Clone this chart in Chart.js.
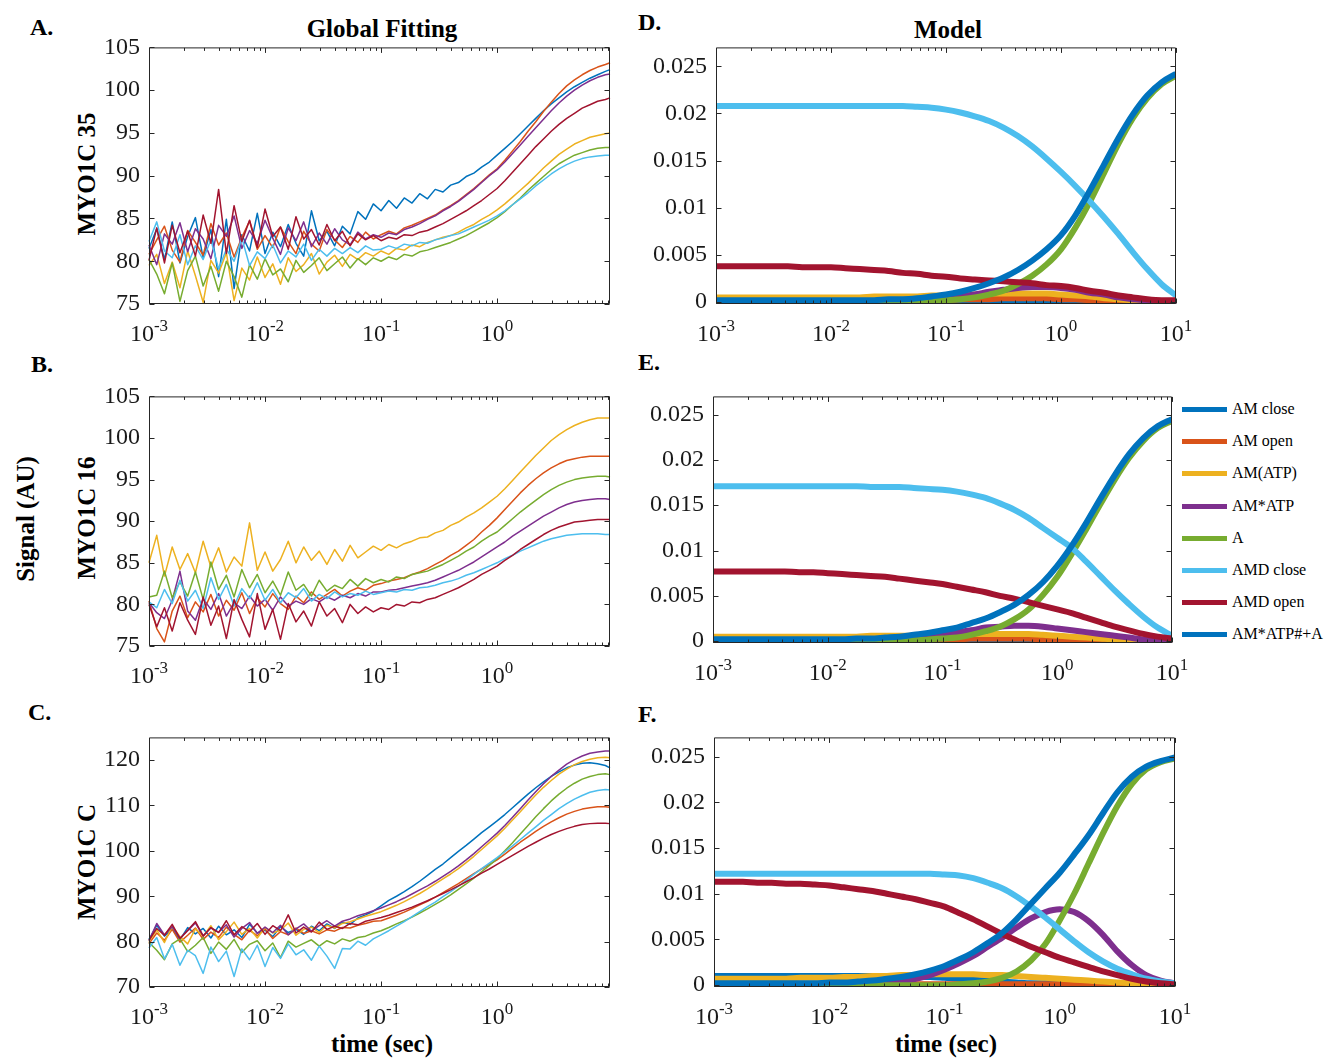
<!DOCTYPE html>
<html>
<head>
<meta charset="utf-8">
<script src="https://cdn.jsdelivr.net/npm/chart.js@4.4.1/dist/chart.umd.min.js"></script>
<style>
  html,body{margin:0;padding:0;background:#fff;}
  body{position:relative;width:1325px;height:1059px;overflow:hidden;font-family:"Liberation Serif","Times New Roman",serif;color:#000;}
  canvas{position:absolute;}
  .lbl{position:absolute;font-weight:bold;white-space:nowrap;line-height:1;}
  .ctr{transform:translateX(-50%);}
  .rot{position:absolute;font-weight:bold;white-space:nowrap;line-height:1;transform:translate(-50%,-50%) rotate(-90deg);}
  .leg{position:absolute;left:1182px;height:20px;font-size:16px;line-height:20px;white-space:nowrap;color:#000;}
  .leg span.sw{position:absolute;left:0;top:8px;width:45px;height:5px;}
  .leg span.tx{position:absolute;left:50px;top:0;}
</style>
</head>
<body>

<div class="lbl" style="left:30px;top:15px;font-size:24px;">A.</div>
<div class="lbl" style="left:31px;top:352px;font-size:24px;">B.</div>
<div class="lbl" style="left:28px;top:700px;font-size:24px;">C.</div>
<div class="lbl" style="left:638px;top:10px;font-size:24px;">D.</div>
<div class="lbl" style="left:638px;top:350px;font-size:24px;">E.</div>
<div class="lbl" style="left:638px;top:702px;font-size:24px;">F.</div>

<div class="lbl ctr" style="left:382px;top:16px;font-size:25px;">Global Fitting</div>
<div class="lbl ctr" style="left:948px;top:17px;font-size:25px;">Model</div>
<div class="lbl ctr" style="left:382px;top:1031px;font-size:25px;">time (sec)</div>
<div class="lbl ctr" style="left:946px;top:1031px;font-size:25px;">time (sec)</div>

<div class="rot" style="left:86px;top:174px;font-size:25px;">MYO1C 35</div>
<div class="rot" style="left:86px;top:518px;font-size:25px;">MYO1C 16</div>
<div class="rot" style="left:86px;top:862px;font-size:25px;">MYO1C C</div>
<div class="rot" style="left:25px;top:519px;font-size:25px;">Signal (AU)</div>

<div id="legend"></div>

<script>
// ---------------- DATA ----------------
// time points (s) of the measured traces (panels A-C)
const tData = [
0.001,0.001166,0.001359,0.001585,0.001848,0.002154,0.002512,0.002929,0.003415,0.003981,0.004642,0.005412,0.00631,0.007356,0.008577,
0.01,0.01166,0.01359,0.01585,0.01848,0.02154,0.02512,0.02929,0.03415,0.03981,0.04642,0.05412,0.0631,0.07356,0.08577,
0.1,0.1166,0.1359,0.1585,0.1848,0.2154,0.2512,0.2929,0.3415,0.3981,0.4642,0.5412,0.631,0.7356,0.8577,
1,1.166,1.359,1.585,1.848,2.154,2.512,2.929,3.415,3.981,4.642,5.412,6.31,7.356,8.577,
9.4];

// Panel A  (MYO1C 35)
const aBlue = [
81.5,83.8,80.2,84.6,79.8,82.9,85.1,80.4,83.7,78.2,84.9,76.8,83.1,81.2,85.6,
80.9,83.4,81.7,84.3,82.1,80.6,85.9,82.4,83.5,81.8,84.1,83.2,85.8,84.9,86.7,
85.9,87.1,86.2,87.4,86.8,87.9,87.3,88.4,88.1,88.9,89.2,89.9,90.3,91.0,91.6,
92.4,93.2,94.0,94.9,95.8,96.7,97.6,98.4,99.1,99.8,100.4,100.9,101.4,101.8,102.2,
102.4];
const aOrange = [
80.8,82.5,84.1,81.3,79.9,83.6,82.2,80.7,84.4,81.9,83.3,80.5,82.8,84.7,81.4,
83.0,81.6,84.0,82.3,80.9,83.5,82.0,81.2,83.7,82.5,81.6,82.9,82.2,83.4,82.6,
83.1,83.5,83.2,83.9,84.2,84.6,85.0,85.4,86.0,86.5,87.1,87.8,88.5,89.3,90.1,
90.8,91.8,92.9,94.0,95.2,96.3,97.5,98.6,99.6,100.5,101.2,101.8,102.3,102.7,103.0,
103.2];
const aYellow = [
79.5,80.8,77.4,79.9,76.9,81.2,78.3,75.2,80.1,78.6,81.0,75.4,79.2,77.8,80.5,
78.1,79.7,77.3,80.4,78.8,79.6,80.9,78.5,79.9,80.7,79.4,80.8,80.2,81.0,80.6,
81.2,80.8,81.5,81.3,81.9,81.7,82.2,82.5,82.8,83.0,83.4,83.9,84.3,84.9,85.4,
86.0,86.7,87.5,88.3,89.1,90.0,90.9,91.7,92.5,93.1,93.7,94.1,94.5,94.7,94.9,
95.0];
const aPurple = [
81.9,79.6,83.2,82.0,84.5,81.1,83.8,82.6,80.3,84.2,82.9,85.3,81.5,83.6,82.1,
84.8,82.7,80.8,83.9,82.4,84.6,81.7,83.3,82.0,83.8,82.5,81.9,83.4,82.6,83.1,
82.8,83.3,83.1,83.7,84.0,84.4,84.9,85.3,85.9,86.4,87.0,87.7,88.4,89.2,90.0,
90.7,91.6,92.6,93.6,94.6,95.6,96.6,97.6,98.5,99.3,100.0,100.6,101.1,101.5,101.8,
101.9];
const aGreen = [
80.2,78.5,76.2,79.8,75.3,78.9,80.6,77.1,79.4,76.5,80.0,78.2,75.8,79.6,77.9,
80.3,78.4,79.1,77.6,80.1,78.7,79.5,80.4,78.9,79.7,80.5,79.2,80.3,79.6,80.4,
80.0,80.5,80.2,80.8,80.6,81.1,81.3,81.6,81.9,82.2,82.6,83.0,83.5,84.0,84.5,
85.1,85.8,86.6,87.4,88.3,89.1,89.9,90.7,91.4,91.9,92.4,92.7,93.0,93.2,93.3,
93.3];
const aLightBlue = [
82.3,84.6,81.2,80.4,83.1,79.6,81.8,80.2,82.5,79.1,81.4,80.0,82.7,79.5,81.1,
80.3,81.9,79.8,81.2,80.5,82.0,80.1,81.4,80.6,81.5,80.9,81.6,81.0,81.8,81.3,
81.4,81.8,81.5,82.0,81.8,82.2,82.1,82.5,82.7,83.0,83.2,83.6,84.0,84.4,84.8,
85.3,85.9,86.6,87.3,88.0,88.8,89.5,90.2,90.8,91.3,91.7,92.0,92.2,92.3,92.4,
92.4];
const aRed = [
80.1,83.9,79.8,84.2,81.0,83.5,80.6,85.4,82.1,88.4,80.9,86.5,82.3,84.8,81.6,
86.1,82.9,84.0,81.4,85.2,82.6,83.7,81.9,84.3,82.4,83.5,81.8,83.2,82.5,83.0,
82.4,82.8,82.6,83.1,83.0,83.4,83.6,84.0,84.4,84.9,85.4,85.9,86.5,87.1,87.8,
88.5,89.4,90.4,91.4,92.4,93.4,94.3,95.2,96.0,96.7,97.3,97.9,98.3,98.7,98.9,
99.1];

// Panel B  (MYO1C 16)
const bOrange = [
80.4,77.1,75.5,79.2,81.0,78.4,80.3,79.1,81.2,78.6,80.5,79.3,81.4,78.9,80.8,
79.7,81.3,80.1,79.4,81.0,80.2,81.5,80.6,81.2,81.8,81.0,81.6,82.0,81.7,82.3,
82.5,82.8,83.0,83.2,83.6,83.9,84.3,84.8,85.3,85.9,86.4,87.1,87.8,88.7,89.5,
90.4,91.4,92.4,93.4,94.3,95.1,95.8,96.4,96.9,97.3,97.5,97.7,97.8,97.8,97.8,
97.8];
const bYellow = [
85.0,88.3,83.4,86.9,84.2,86.1,83.8,87.6,84.5,86.8,83.9,85.7,84.6,89.8,84.1,
86.3,84.0,85.4,87.6,85.0,86.9,85.3,86.4,84.8,86.6,85.2,87.1,85.6,86.3,87.0,
86.5,87.2,86.8,87.3,87.6,88.0,88.1,88.6,88.9,89.5,89.9,90.5,91.0,91.6,92.3,
93.0,93.9,94.9,95.9,96.9,97.9,98.8,99.7,100.4,101.0,101.5,101.9,102.2,102.4,102.4,
102.4];
const bPurple = [
80.2,79.0,78.3,80.5,84.0,79.2,78.1,80.7,79.4,81.3,78.6,80.2,79.5,81.0,79.8,
80.6,79.3,80.9,79.8,80.4,80.0,80.7,80.3,80.9,80.5,81.1,80.8,81.3,81.0,81.5,
81.5,81.7,81.8,82.0,82.2,82.4,82.6,82.9,83.3,83.7,84.1,84.6,85.1,85.7,86.3,
86.9,87.5,88.2,88.8,89.4,90.0,90.6,91.1,91.6,92.0,92.3,92.5,92.6,92.7,92.7,
92.6];
const bGreen = [
80.9,81.1,84.0,80.8,82.7,81.0,83.9,80.6,85.1,81.8,83.5,80.9,84.2,82.0,83.6,
81.4,82.8,81.1,83.9,81.7,82.4,81.0,82.9,81.6,82.3,81.9,83.0,82.2,83.1,82.6,
83.0,82.7,83.3,83.1,83.6,83.8,84.0,84.4,84.8,85.3,85.8,86.4,86.9,87.6,88.2,
88.7,89.5,90.3,91.1,91.8,92.5,93.2,93.8,94.3,94.7,95.0,95.2,95.3,95.4,95.4,
95.3];
const bLightBlue = [
80.3,79.6,81.8,80.1,82.9,80.4,81.7,79.5,83.2,80.6,82.4,79.8,81.9,80.7,82.6,
80.5,81.8,80.2,81.4,80.8,81.9,80.4,81.2,80.7,81.5,80.9,81.3,81.1,81.6,81.2,
81.4,81.6,81.5,81.8,81.7,82.0,82.1,82.3,82.6,82.8,83.1,83.5,83.8,84.2,84.6,
85.0,85.5,85.9,86.4,86.8,87.2,87.6,87.9,88.1,88.3,88.4,88.5,88.5,88.5,88.4,
88.4];
const bRed = [
80.0,77.3,79.6,76.8,80.2,78.1,76.4,80.9,77.5,79.8,75.9,80.6,78.2,76.1,81.3,
77.0,79.4,75.8,80.1,77.9,79.2,77.4,80.3,78.6,79.5,77.8,80.0,78.9,79.7,79.1,
79.6,79.4,80.0,79.8,80.3,80.2,80.6,80.8,81.2,81.6,82.0,82.5,83.0,83.6,84.1,
84.6,85.3,85.9,86.6,87.2,87.8,88.4,88.9,89.3,89.6,89.9,90.0,90.1,90.2,90.2,
90.2];

// Panel C  (MYO1C C)
const cBlue = [
80.5,83.6,81.2,82.8,80.4,83.1,81.7,82.9,80.8,83.4,81.5,82.6,80.9,83.8,81.9,
82.5,81.1,83.3,82.0,82.7,81.6,83.4,82.4,83.9,82.9,84.3,83.8,85.2,85.9,86.7,
87.9,89.1,90.0,91.0,92.1,93.3,94.6,95.9,97.1,98.5,99.9,101.2,102.6,104.0,105.3,
106.6,108.0,109.5,111.0,112.5,113.9,115.2,116.4,117.4,118.3,118.9,119.3,119.4,119.2,118.8,
118.3];
const cOrange = [
79.6,81.9,80.3,82.7,79.9,81.4,83.0,80.5,82.1,80.9,83.2,81.6,80.4,82.5,81.3,
82.8,80.7,82.2,81.5,83.0,81.8,82.4,81.7,82.6,82.3,83.1,83.0,83.6,84.0,84.5,
84.6,85.2,85.8,86.5,87.3,88.1,88.9,89.8,90.8,91.8,92.8,93.9,95.0,96.0,97.0,
98.0,99.3,100.6,101.9,103.1,104.3,105.4,106.4,107.3,108.1,108.7,109.2,109.5,109.7,109.7,
109.6];
const cYellow = [
80.0,82.6,79.8,83.4,81.1,79.5,82.8,81.2,83.5,80.4,82.2,84.3,81.6,82.9,80.8,
83.1,81.9,82.5,84.1,81.4,82.7,83.2,82.0,83.6,83.0,84.0,84.4,85.0,85.6,86.1,
86.6,87.3,88.0,88.8,89.7,90.6,91.6,92.7,93.8,94.9,96.1,97.4,98.8,100.3,101.8,
103.3,105.0,106.8,108.6,110.5,112.3,114.0,115.5,116.9,118.0,119.0,119.7,120.2,120.5,120.6,
120.5];
const cPurple = [
80.2,84.0,81.5,83.3,80.7,82.4,84.1,81.3,83.0,82.1,83.7,81.0,82.9,84.2,81.8,
83.2,82.0,83.6,81.5,82.8,83.9,82.3,83.5,84.6,83.4,84.5,85.0,85.7,86.2,86.8,
87.4,88.1,88.8,89.6,90.5,91.4,92.3,93.3,94.4,95.5,96.7,98.0,99.4,100.9,102.4,
103.9,105.6,107.4,109.3,111.2,113.0,114.8,116.4,117.8,119.1,120.1,120.9,121.5,121.8,122.0,
122.0];
const cGreen = [
79.8,78.1,76.0,79.5,80.6,77.8,79.2,80.9,77.4,79.9,78.3,80.5,77.6,79.4,80.2,
78.0,79.7,76.5,80.1,78.8,79.6,80.4,79.0,80.2,79.5,80.6,80.1,80.9,81.2,81.9,
82.4,83.1,83.9,84.6,85.4,86.3,87.2,88.2,89.2,90.3,91.5,92.7,94.0,95.4,96.8,
98.3,100.0,101.8,103.7,105.6,107.5,109.3,111.0,112.5,113.8,114.9,115.8,116.4,116.8,117.0,
116.8];
const cLightBlue = [
78.6,80.9,76.2,79.4,74.8,78.1,76.9,73.0,78.8,75.6,77.9,72.3,78.4,76.0,79.2,
74.5,78.7,76.3,79.5,77.1,78.2,75.9,79.0,76.8,74.1,78.5,78.4,80.1,79.2,80.6,
81.5,82.4,83.4,84.4,85.5,86.6,87.7,88.7,89.9,91.0,92.2,93.5,94.8,96.1,97.3,
98.5,99.8,101.1,102.5,103.9,105.3,106.7,108.0,109.3,110.4,111.4,112.2,112.9,113.3,113.5,
113.4];
const cRed = [
80.3,82.9,81.4,83.8,80.7,82.5,84.4,81.2,83.1,82.0,84.6,81.5,83.3,82.2,84.0,
81.6,83.5,82.4,85.9,81.9,83.2,82.1,84.3,82.7,83.4,82.9,84.0,83.7,84.5,84.9,
85.3,85.8,86.4,87.0,87.6,88.3,89.0,89.8,90.6,91.4,92.3,93.2,94.1,95.1,96.0,
97.0,98.0,99.0,100.0,101.0,101.9,102.8,103.6,104.3,104.9,105.4,105.8,106.0,106.1,106.1,
106.0];

// time points (s) of the model curves (panels D-F), 8 per decade
const tModel = [
0.001,0.001334,0.001778,0.002371,0.003162,0.004217,0.005623,0.007499,
0.01,0.01334,0.01778,0.02371,0.03162,0.04217,0.05623,0.07499,
0.1,0.1334,0.1778,0.2371,0.3162,0.4217,0.5623,0.7499,
1,1.334,1.778,2.371,3.162,4.217,5.623,7.499,
10];

const modelNames = ['AM close','AM open','AM(ATP)','AM*ATP','A','AMD close','AMD open','AM*ATP#+A'];

// Panel D
const dAMclose = [
.0002,.0002,.0002,.0002,.0002,.0002,.0002,.0002,
.0002,.0002,.0002,.0002,.0002,.0002,.0002,.0002,
.0002,.0002,.0002,.0002,.0002,.0001,.0001,.0001,
.0001,.0001,.0001,0,0,0,0,0,
0];
const dAMopen = [
.0001,.0001,.0001,.0001,.0001,.0001,.0001,.0001,
.0001,.0001,.0001,.0001,.0001,.0001,.0002,.0002,
.0002,.0003,.0003,.0003,.0004,.0004,.0004,.0004,
.0003,.0003,.0002,.0002,.0001,.0001,0,0,
0];
const dAMATP = [
.0005,.0005,.0005,.0005,.0005,.0005,.0005,.0005,
.0005,.0005,.0005,.0006,.0006,.0006,.0006,.0007,
.0007,.0008,.0008,.0009,.0009,.0009,.0009,.0009,
.0008,.0007,.0006,.0004,.0003,.0002,.0001,.0001,
0];
const dAMsATP = [
0,0,0,0,0,0,0,0,
0,0,0,0,.0001,.0001,.0002,.0003,
.0004,.0006,.0008,.0011,.0013,.0015,.0016,.0016,
.0015,.0013,.0010,.0008,.0005,.0003,.0002,.0001,
0];
const dA = [
0,0,0,0,0,0,0,0,
0,0,0,0,0,0,0,.0001,
.0002,.0003,.0005,.0008,.0012,.0019,.0028,.0040,
.0056,.0079,.0106,.0137,.0168,.0195,.0216,.0231,
.0240];
const dAMDclose = [
.0208,.0208,.0208,.0208,.0208,.0208,.0208,.0208,
.0208,.0208,.0208,.0208,.0208,.0208,.0207,.0206,
.0204,.0201,.0197,.0192,.0185,.0176,.0165,.0152,
.0138,.0123,.0107,.0090,.0072,.0053,.0035,.0019,
.0007];
const dAMDopen = [
.0038,.0038,.0038,.0038,.0038,.0038,.0037,.0037,
.0037,.0036,.0035,.0034,.0033,.0031,.0030,.0028,
.0027,.0025,.0024,.0023,.0022,.0021,.0020,.0018,
.0017,.0015,.0012,.0010,.0007,.0005,.0003,.0002,
.0002];
const dAMsATPA = [
.0002,.0002,.0002,.0002,.0002,.0002,.0002,.0002,
.0002,.0002,.0002,.0002,.0003,.0003,.0004,.0006,
.0008,.0011,.0015,.0020,.0026,.0034,.0044,.0056,
.0071,.0092,.0118,.0146,.0174,.0199,.0219,.0233,
.0242];

// Panel E
const eAMclose = [
.0001,.0001,.0001,.0001,.0001,.0001,.0001,.0001,
.0001,.0001,.0001,.0001,.0001,.0001,.0001,.0001,
.0001,.0001,.0001,.0001,.0001,.0001,.0001,.0001,
.0001,0,0,0,0,0,0,0,
0];
const eAMopen = [
.0001,.0001,.0001,.0001,.0001,.0001,.0001,.0001,
.0001,.0001,.0001,.0001,.0001,.0001,.0002,.0002,
.0002,.0002,.0003,.0003,.0003,.0003,.0003,.0002,
.0002,.0002,.0001,.0001,.0001,0,0,0,
0];
const eAMATP = [
.0005,.0005,.0005,.0005,.0005,.0005,.0005,.0005,
.0005,.0005,.0005,.0006,.0006,.0006,.0006,.0007,
.0007,.0007,.0008,.0008,.0008,.0008,.0008,.0007,
.0006,.0005,.0004,.0003,.0002,.0002,.0001,.0001,
0];
const eAMsATP = [
0,0,0,0,0,0,0,0,
0,0,.0001,.0001,.0001,.0002,.0003,.0005,
.0007,.0010,.0012,.0015,.0016,.0017,.0017,.0016,
.0014,.0012,.0010,.0008,.0006,.0004,.0002,.0001,
0];
const eA = [
0,0,0,0,0,0,0,0,
0,0,0,0,0,.0001,.0001,.0002,
.0003,.0004,.0007,.0011,.0016,.0024,.0035,.0051,
.0071,.0096,.0123,.0151,.0178,.0202,.0221,.0235,
.0243];
const eAMDclose = [
.0171,.0171,.0171,.0171,.0171,.0171,.0171,.0171,
.0171,.0171,.0171,.0170,.0170,.0170,.0169,.0168,
.0167,.0165,.0162,.0158,.0152,.0145,.0136,.0125,
.0114,.0103,.0088,.0072,.0056,.0041,.0027,.0015,
.0006];
const eAMDopen = [
.0077,.0077,.0077,.0077,.0077,.0077,.0076,.0076,
.0075,.0074,.0073,.0072,.0071,.0069,.0067,.0065,
.0063,.0060,.0057,.0054,.0050,.0047,.0043,.0039,
.0035,.0031,.0026,.0021,.0016,.0012,.0008,.0005,
.0003];
const eAMsATPA = [
.0002,.0002,.0002,.0002,.0002,.0002,.0002,.0002,
.0002,.0002,.0003,.0003,.0004,.0005,.0007,.0009,
.0012,.0015,.0020,.0025,.0032,.0040,.0051,.0065,
.0083,.0105,.0130,.0157,.0183,.0206,.0224,.0237,
.0245];

// Panel F
const fAMclose = [
.0010,.0010,.0010,.0010,.0010,.0010,.0010,.0010,
.0010,.0010,.0010,.0010,.0010,.0010,.0009,.0009,
.0008,.0007,.0006,.0005,.0004,.0003,.0002,.0002,
.0001,.0001,0,0,0,0,0,0,
0];
const fAMopen = [
.0001,.0001,.0001,.0001,.0001,.0001,.0001,.0001,
.0001,.0001,.0001,.0001,.0001,.0001,.0001,.0001,
.0001,.0001,.0001,.0001,.0001,.0001,.0001,.0001,
.0001,.0001,.0001,.0001,.0001,.0001,.0001,0,
0];
const fAMATP = [
.0007,.0007,.0007,.0007,.0007,.0007,.0008,.0008,
.0008,.0009,.0009,.0010,.0010,.0011,.0011,.0012,
.0012,.0012,.0012,.0011,.0011,.0010,.0009,.0008,
.0007,.0006,.0005,.0004,.0003,.0002,.0001,.0001,
0];
const fAMsATP = [
.0001,.0001,.0001,.0001,.0001,.0001,.0001,.0001,
.0001,.0001,.0001,.0002,.0003,.0004,.0007,.0011,
.0017,.0024,.0032,.0042,.0052,.0063,.0073,.0080,
.0083,.0080,.0070,.0055,.0037,.0022,.0011,.0005,
.0002];
const fA = [
0,0,0,0,0,0,0,0,
0,0,0,0,0,0,0,0,
0,.0001,.0002,.0004,.0008,.0015,.0027,.0045,
.0071,.0100,.0133,.0166,.0196,.0220,.0236,.0244,
.0248];
const fAMDclose = [
.0122,.0122,.0122,.0122,.0122,.0122,.0122,.0122,
.0122,.0122,.0122,.0122,.0122,.0122,.0122,.0122,
.0121,.0120,.0117,.0112,.0106,.0097,.0086,.0074,
.0061,.0048,.0036,.0026,.0018,.0012,.0007,.0004,
.0002];
const fAMDopen = [
.0113,.0113,.0113,.0112,.0112,.0111,.0111,.0110,
.0109,.0107,.0105,.0103,.0100,.0097,.0094,.0090,
.0086,.0079,.0072,.0064,.0056,.0049,.0042,.0036,
.0030,.0025,.0020,.0015,.0011,.0007,.0004,.0002,
.0001];
const fAMsATPA = [
.0002,.0002,.0002,.0002,.0002,.0002,.0002,.0002,
.0003,.0003,.0004,.0005,.0007,.0009,.0012,.0016,
.0021,.0028,.0036,.0046,.0057,.0072,.0089,.0106,
.0123,.0143,.0164,.0188,.0211,.0228,.0239,.0245,
.0249];

// tick values and labels
const yTicksData  = [75,80,85,90,95,100,105];
const yLabelsData = ['75','80','85','90','95','100','105'];
const yTicksC     = [70,80,90,100,110,120];
const yLabelsC    = ['70','80','90','100','110','120'];
const yTicksModel = [0,0.005,0.01,0.015,0.02,0.025];
const yLabelsModel= ['0','0.005','0.01','0.015','0.02','0.025'];
const xDecadesData  = [0.001,0.01,0.1,1];
const xDecadesModel = [0.001,0.01,0.1,1,10];

// ---------------- STYLE ----------------
const C = {blue:'#0072BD', orange:'#D95319', yellow:'#EDB120', purple:'#7E2F8E',
           green:'#77AC30', lightBlue:'#4DBEEE', red:'#A2142F'};
const modelColors = [C.blue,C.orange,C.yellow,C.purple,C.green,C.lightBlue,C.red,C.blue];
const FONT = 'Liberation Serif';
const RIGHT_PAD = 30;

function framePlugin(decades){
  return {
    id:'frame',
    afterDraw(chart){
      const {ctx, chartArea:a, scales:{x,y}} = chart;
      ctx.save();
      ctx.strokeStyle = '#262626';
      ctx.lineWidth = 1;
      const l=a.left+0.5, r=a.right-0.5, t=a.top+0.5, b=a.bottom-0.5;
      ctx.beginPath();
      ctx.rect(l,t,r-l,b-t);
      y.ticks.forEach(tk=>{
        const py=Math.round(y.getPixelForValue(tk.value))+0.5;
        ctx.moveTo(l,py); ctx.lineTo(l+5,py);
        ctx.moveTo(r,py); ctx.lineTo(r-5,py);
      });
      decades.forEach(v=>{
        const px=Math.round(x.getPixelForValue(v))+0.5;
        ctx.moveTo(px,b); ctx.lineTo(px,b-5);
        ctx.moveTo(px,t); ctx.lineTo(px,t+5);
      });
      decades.forEach(d=>{
        for(let m=2;m<=9;m++){
          const v=m*d;
          if(v>x.min && v<x.max){
            const px=Math.round(x.getPixelForValue(v))+0.5;
            ctx.moveTo(px,b); ctx.lineTo(px,b-3);
            ctx.moveTo(px,t); ctx.lineTo(px,t+3);
          }
        }
      });
      ctx.stroke();
      ctx.fillStyle='#1a1a1a';
      ctx.textAlign='left';
      ctx.textBaseline='alphabetic';
      decades.forEach(v=>{
        const sup=String(Math.round(Math.log10(v)));
        ctx.font='24px "'+FONT+'"';
        const w1=ctx.measureText('10').width;
        ctx.font='17px "'+FONT+'"';
        const w2=ctx.measureText(sup).width;
        const px=x.getPixelForValue(v);
        const s=px-(w1+w2)/2;
        ctx.font='24px "'+FONT+'"';
        ctx.fillText('10',s,a.bottom+37);
        ctx.font='17px "'+FONT+'"';
        ctx.fillText(sup,s+w1,a.bottom+27);
      });
      ctx.restore();
    }
  };
}

const panels = [
  {rect:[149,44,610,304], xMax:9.4, yMin:75, yMax:105, yTicks:yTicksData, yLabels:yLabelsData, times:tData, decades:xDecadesData, model:false,
   series:[[aBlue,C.blue],[aOrange,C.orange],[aYellow,C.yellow],[aPurple,C.purple],[aGreen,C.green],[aLightBlue,C.lightBlue],[aRed,C.red]]},
  {rect:[149,393,610,646], xMax:9.4, yMin:75, yMax:105, yTicks:yTicksData, yLabels:yLabelsData, times:tData, decades:xDecadesData, model:false,
   series:[[bOrange,C.orange],[bYellow,C.yellow],[bPurple,C.purple],[bGreen,C.green],[bLightBlue,C.lightBlue],[bRed,C.red]]},
  {rect:[149,734,610,987], xMax:9.4, yMin:70, yMax:125, yTicks:yTicksC, yLabels:yLabelsC, times:tData, decades:xDecadesData, model:false,
   series:[[cBlue,C.blue],[cOrange,C.orange],[cYellow,C.yellow],[cPurple,C.purple],[cGreen,C.green],[cLightBlue,C.lightBlue],[cRed,C.red]]},
  {rect:[716,44,1176,304], xMax:10, yMin:-0.0002, yMax:0.027, yTicks:yTicksModel, yLabels:yLabelsModel, times:tModel, decades:xDecadesModel, model:true,
   series:[dAMclose,dAMopen,dAMATP,dAMsATP,dA,dAMDclose,dAMDopen,dAMsATPA].map((s,i)=>[s,modelColors[i],modelNames[i]])},
  {rect:[713,393,1172,643], xMax:10, yMin:-0.0002, yMax:0.027, yTicks:yTicksModel, yLabels:yLabelsModel, times:tModel, decades:xDecadesModel, model:true,
   series:[eAMclose,eAMopen,eAMATP,eAMsATP,eA,eAMDclose,eAMDopen,eAMsATPA].map((s,i)=>[s,modelColors[i],modelNames[i]])},
  {rect:[714,734,1175,987], xMax:10, yMin:-0.0002, yMax:0.0271, yTicks:yTicksModel, yLabels:yLabelsModel, times:tModel, decades:xDecadesModel, model:true,
   series:[fAMclose,fAMopen,fAMATP,fAMsATP,fA,fAMDclose,fAMDopen,fAMsATPA].map((s,i)=>[s,modelColors[i],modelNames[i]])}
];

panels.forEach((p)=>{
  const [L,T,R,B] = p.rect;
  const cv = document.createElement('canvas');
  const W = R-L+80+RIGHT_PAD, H = B-T+70;
  cv.width = W; cv.height = H;
  cv.style.left = (L-80)+'px'; cv.style.top = (T-20)+'px';
  cv.style.width = W+'px'; cv.style.height = H+'px';
  document.body.appendChild(cv);
  const n = p.series.length;
  const datasets = p.series.map((s,i)=>({
    label: s[2] || ('trace '+(i+1)),
    data: p.times.map((t,k)=>({x:t, y:s[0][k]})),
    borderColor: s[1],
    backgroundColor: s[1],
    borderWidth: p.model ? 6 : 1.5,
    pointRadius: 0,
    fill: false,
    tension: 0,
    cubicInterpolationMode: p.model ? 'monotone' : 'default',
    borderJoinStyle: 'round',
    clip: p.model ? 0 : 1,
    order: n-1-i
  }));
  new Chart(cv, {
    type:'line',
    data:{datasets},
    options:{
      responsive:false, animation:false, events:[],
      devicePixelRatio:1,
      layout:{padding:{top:20,right:RIGHT_PAD,bottom:0,left:0}},
      plugins:{legend:{display:false}, tooltip:{enabled:false}},
      scales:{
        x:{type:'logarithmic', min:0.001, max:p.xMax,
           grid:{display:false, drawTicks:false}, border:{display:false},
           ticks:{display:false},
           afterBuildTicks:s=>{ s.ticks = p.decades.map(v=>({value:v})); },
           afterFit:s=>{ s.height = 50; }},
        y:{type:'linear', min:p.yMin, max:p.yMax,
           grid:{display:false, drawTicks:false}, border:{display:false},
           ticks:{autoSkip:false, padding:9, color:'#1a1a1a', font:{family:FONT, size:24},
                  callback:(v,i)=>p.yLabels[i]},
           afterBuildTicks:s=>{ s.ticks = p.yTicks.map(v=>({value:v})); },
           afterFit:s=>{ s.width = 80; }}
      }
    },
    plugins:[framePlugin(p.decades)]
  });
});

// legend (panel E)
const legTops = [409,441,473,506,538,570,602,634];
const legend = document.getElementById('legend');
modelNames.forEach((nm,i)=>{
  const d = document.createElement('div');
  d.className = 'leg';
  d.style.top = (legTops[i]-10)+'px';
  d.innerHTML = '<span class="sw" style="background:'+modelColors[i]+'"></span><span class="tx"></span>';
  d.querySelector('.tx').textContent = nm;
  legend.appendChild(d);
});
</script>
</body>
</html>
